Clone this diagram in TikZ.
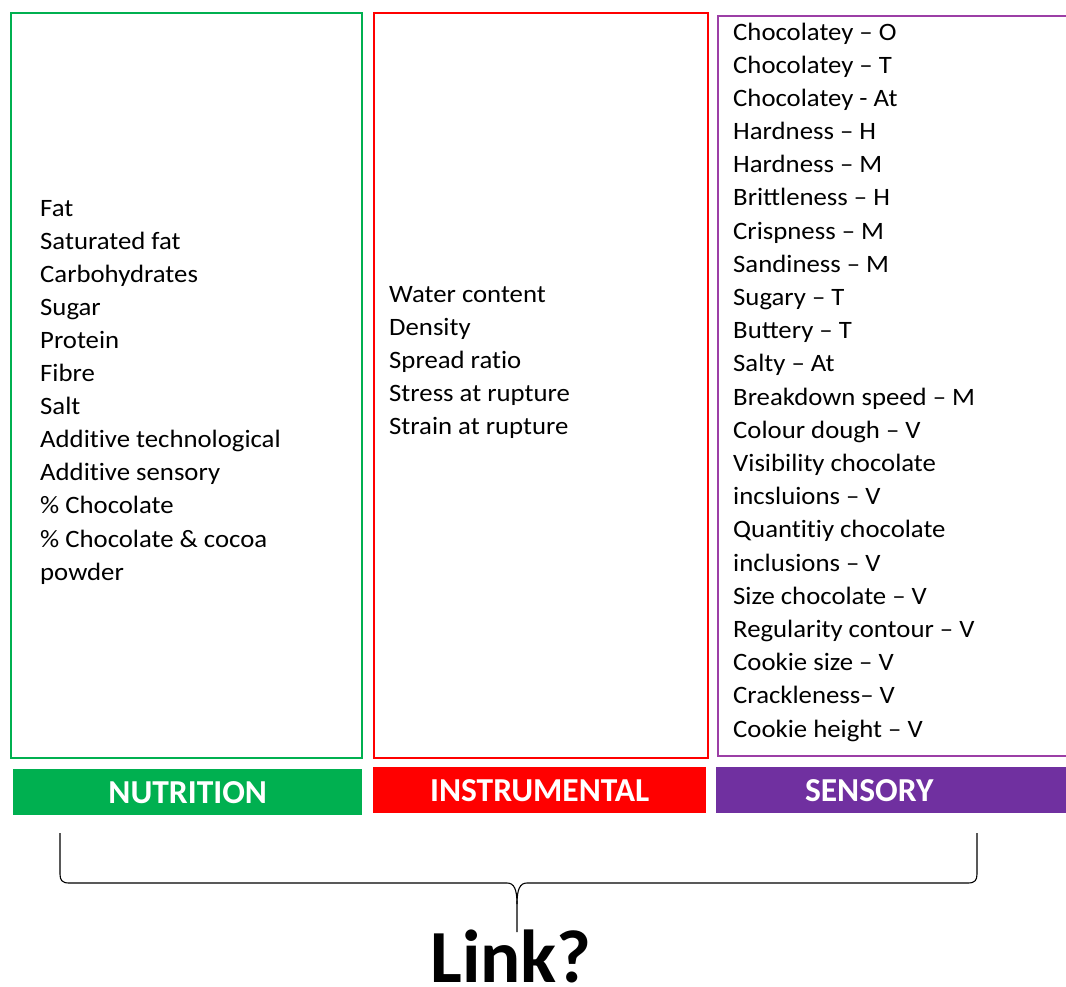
\documentclass[tikz,border=0pt]{standalone}
\usepackage{fontspec}
\setmainfont{Carlito}
\newfontfamily\listfont{Carlito}[FakeStretch=1.07]
% zero kern between t and i keeps the two letters apart (no ti ligature)
\newcommand\tikern{\kern0pt }
\definecolor{nutgreen}{HTML}{00B050}
\definecolor{insred}{HTML}{FF0000}
\definecolor{senpurple}{HTML}{7030A0}
\definecolor{senedge}{HTML}{9C3FA6}
\begin{document}
\begin{tikzpicture}[x=1pt,y=-1pt,
  panel/.style={draw, line width=2.4pt, anchor=north west, inner sep=0pt},
  tag/.style={anchor=north west, inner sep=0pt, text=white,
    font=\fontsize{33.5}{33.5}\selectfont\bfseries},
  item/.style={anchor=base west, inner sep=0pt, font=\listfont\fontsize{25}{25}\selectfont},
  brace/.style={draw=black, line width=1.1pt}]
\useasboundingbox (0,0) rectangle (1066,986);
\clip (0,0) rectangle (1066,986);

% column frames
\node[panel, draw=nutgreen, minimum width=351pt, minimum height=745pt] (nutbox) at (10,12) {};
\node[panel, draw=insred, minimum width=334pt, minimum height=745pt] (insbox) at (373,12) {};
\node[panel, draw=senedge, minimum width=370pt, minimum height=740pt] (senbox) at (717,15) {};

% category bars
\node[tag, fill=nutgreen, minimum width=349pt, minimum height=46pt] (nuttag) at (13,769) {NUTRITION};
\node[tag, fill=insred, minimum width=333pt, minimum height=46pt] (instag) at (373,767) {INSTRUMENTAL};
\node[tag, fill=senpurple, minimum width=350pt, minimum height=46pt, text width=350pt, align=center] (sentag) at (716,767) {\hspace*{-44pt}SENSORY};

% nutrition variables
\foreach \t [count=\i] in {Fat, Saturated fat, Carbohydrates, Sugar, Protein, Fibre, Salt,
  Addit\tikern ive technological, Addit\tikern ive sensory, \% Chocolate, \% Chocolate \& cocoa, powder}
  \node[item] (n\i) at (40, 216+33.1*\i-33.1) {\t};

% instrumental variables
\foreach \t [count=\i] in {Water content, Density, Spread rat\tikern io, Stress at rupture, Strain at rupture}
  \node[item] (m\i) at (389, 302+33.1*\i-33.1) {\t};

% sensory attributes
\foreach \t [count=\i] in {Chocolatey – O, Chocolatey – T, Chocolatey - At, Hardness – H,
  Hardness – M, Brittleness – H, Crispness – M, Sandiness – M, Sugary – T, Buttery – T,
  Salty – At, Breakdown speed – M, Colour dough – V, Visibility chocolate,
  incsluions – V, Quant\tikern it\tikern iy chocolate, inclusions – V, Size chocolate – V,
  Regularity contour – V, Cookie size – V, Crackleness– V, Cookie height – V}
  \node[item] (s\i) at (733, 40+33.19*\i-33.19) {\t};

% question below the brace
\node[anchor=base, inner sep=0pt, font=\fontsize{75}{75}\selectfont\bfseries] (link) at (511,982) {Link?};

% brace gathering the three groups
\coordinate (bl) at (60,833);
\coordinate (br) at (977,833);
\coordinate (tip) at (517,932);
\draw[brace] (bl) -- (60,874) .. controls (60,880) and (62,883) .. (69,883)
  -- (507,883) .. controls (514,883) and (517,889) .. (517,904) -- (tip);
\draw[brace] (517,904) .. controls (517,889) and (520,883) .. (527,883)
  -- (968,883) .. controls (975,883) and (977,880) .. (977,874) -- (br);
\end{tikzpicture}
\end{document}
